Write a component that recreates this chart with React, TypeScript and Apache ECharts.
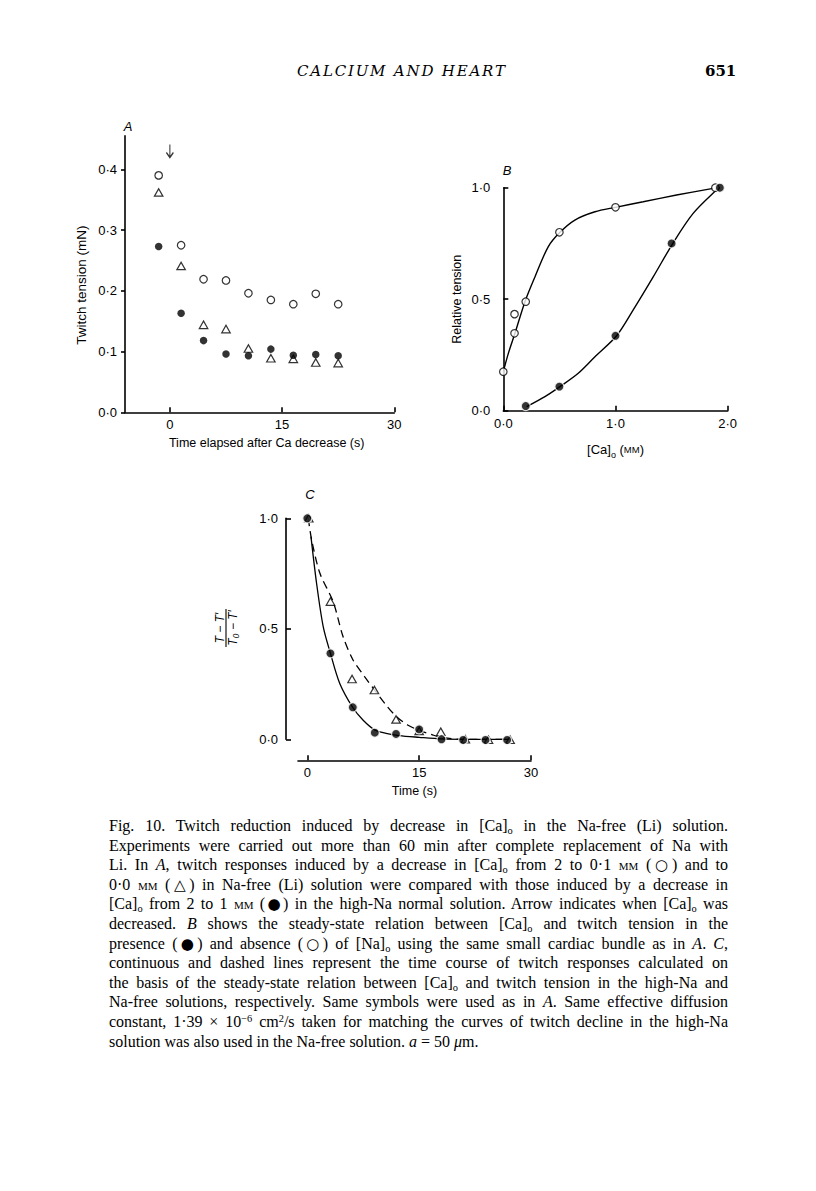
import React, { useEffect, useRef } from 'react';
import * as echarts from 'echarts';

// ---------- Panel A data ----------
const timeA = [-1.5, 1.5, 4.5, 7.5, 10.5, 13.5, 16.5, 19.5, 22.5];
const openA = [0.39, 0.275, 0.219, 0.217, 0.196, 0.185, 0.178, 0.195, 0.178];
const triA = [0.362, 0.241, 0.144, 0.137, 0.105, 0.089, 0.088, 0.082, 0.081];
const filledA = [0.273, 0.163, 0.118, 0.096, 0.093, 0.104, 0.094, 0.095, 0.093];
const arrowA = [[0, 0.43]];
const ticksAx = [0, 15, 30];
const ticksAy = [0, 0.1, 0.2, 0.3, 0.4];

// ---------- Panel B data ----------
const caOpen = [0.0, 0.1, 0.1, 0.2, 0.5, 1.0, 1.89];
const relOpen = [0.175, 0.347, 0.433, 0.489, 0.8, 0.912, 1.0];
const caFilled = [0.2, 0.5, 1.0, 1.5, 1.93];
const relFilled = [0.021, 0.108, 0.336, 0.75, 1.0];
const curveOpenCa = [0, 0.045, 0.104, 0.193, 0.282, 0.4, 0.505, 0.638, 0.817, 1.0, 1.247, 1.544, 1.87];
const curveOpenRel = [0.175, 0.257, 0.347, 0.489, 0.6, 0.735, 0.8, 0.855, 0.892, 0.912, 0.937, 0.967, 0.997];
const curveFilledCa = [0.208, 0.371, 0.505, 0.668, 0.817, 1.01, 1.158, 1.336, 1.514, 1.692, 1.9, 1.93];
const curveFilledRel = [0.018, 0.063, 0.108, 0.168, 0.242, 0.336, 0.452, 0.6, 0.753, 0.885, 0.99, 1.0];
const ticksBx = [0, 1, 2];
const ticksBy = [0, 0.5, 1];

// ---------- Panel C data ----------
const timeCFilled = [0, 3.1, 6.1, 9.05, 11.9, 15, 18, 20.9, 23.9, 26.8];
const relCFilled = [1.0, 0.389, 0.145, 0.03, 0.024, 0.045, 0.0, -0.003, -0.003, -0.003];
const timeCTri = [0.2, 3.1, 6.0, 9.0, 11.9, 15.0, 17.9, 21.2, 24.3, 27.2];
const relCTri = [1.0, 0.623, 0.273, 0.223, 0.09, 0.038, 0.034, 0.0, -0.002, -0.002];
const solidCt = [0.49, 1.24, 2.13, 3.1, 4.35, 6.08, 7.46, 9.05, 10.56, 12.3, 15, 18, 20.8, 27.4];
const solidCy = [0.917, 0.706, 0.51, 0.389, 0.253, 0.145, 0.087, 0.042, 0.027, 0.017, 0.009, 0.0015, 0, 0];
const dashCt = [0.13, 0.58, 1.69, 3.46, 4.79, 6.13, 7.68, 9.01, 10.56, 11.94, 13.45, 14.9, 16.8, 17.98, 20.8, 27.4];
const dashCy = [1.0, 0.902, 0.751, 0.623, 0.465, 0.359, 0.284, 0.223, 0.155, 0.103, 0.065, 0.042, 0.02, 0.009, 0, 0];
const ticksCx = [0, 15, 30];
const ticksCy = [0, 0.5, 1];

const zip = (a: number[], b: number[]) => a.map((v, i) => [v, b[i]]);
const fmt1 = (v: number) => v.toFixed(1).replace('.', '\u00B7');
const FONT = '"Liberation Sans", Arial, Helvetica, sans-serif';
const TICK_FS = 13;

const axisLineStyle = { show: true, onZero: false, lineStyle: { color: '#000', width: 1.6 } };

function makeOption(): any {
  const openSym = { color: '#fff', borderColor: '#000', borderWidth: 1.2 };
  const filledSym = { color: '#000', borderColor: '#fff', borderWidth: 1.2 };
  const lbl = (ticks: number[], margin: number, formatter?: any) => ({
    customValues: ticks, margin, fontSize: TICK_FS, color: '#000', fontFamily: FONT,
    ...(formatter ? { formatter } : {}),
  });
  const tick = (ticks: number[], inside: boolean, length: number) => ({
    show: true, inside, length, customValues: ticks, lineStyle: { color: '#000', width: 1.6 },
  });
  return {
    animation: false,
    backgroundColor: '#fff',
    textStyle: { fontFamily: FONT, color: '#000' },
    grid: [
      { left: 125, top: 135.9, width: 269.3, height: 276.4 },
      { left: 503.3, top: 187.7, width: 224.4, height: 223 },
      { left: 298, top: 518.3, width: 233, height: 221 },
    ],
    xAxis: [
      {
        type: 'value', gridIndex: 0, min: -6, max: 30,
        axisLine: axisLineStyle,
        axisTick: tick(ticksAx, true, 5),
        axisLabel: lbl(ticksAx, 6),
        splitLine: { show: false },
        name: 'Time elapsed after Ca decrease (s)', nameLocation: 'middle', nameGap: 24,
        nameTextStyle: { fontSize: 12.5, color: '#000', fontFamily: FONT, padding: [0, 0, 0, 14] },
      },
      {
        type: 'value', gridIndex: 1, min: 0, max: 2,
        axisLine: axisLineStyle,
        axisTick: tick(ticksBx, true, 5),
        axisLabel: lbl(ticksBx, 6, fmt1),
        splitLine: { show: false },
        name: '{a|[Ca]}{s|o}{a| (}{m|MM}{a|)}', nameLocation: 'middle', nameGap: 29,
        nameTextStyle: {
          color: '#000', fontFamily: FONT,
          rich: {
            a: { fontSize: 13, fontFamily: FONT, color: '#000' },
            s: { fontSize: 9, lineHeight: 20, verticalAlign: 'bottom', fontFamily: FONT, color: '#000' },
            m: { fontSize: 9.5, fontFamily: FONT, color: '#000' },
          },
        },
      },
      {
        type: 'value', gridIndex: 2, min: -1.25, max: 30, offset: 21,
        axisLine: axisLineStyle,
        axisTick: tick(ticksCx, true, 5),
        axisLabel: lbl(ticksCx, 6),
        splitLine: { show: false },
        name: 'Time (s)', nameLocation: 'middle', nameGap: 24,
        nameTextStyle: { fontSize: 12.5, color: '#000', fontFamily: FONT },
      },
    ],
    yAxis: [
      {
        type: 'value', gridIndex: 0, min: 0, max: 0.455,
        axisLine: axisLineStyle,
        axisTick: tick(ticksAy, false, 4),
        axisLabel: lbl(ticksAy, 8, fmt1),
        splitLine: { show: false },
        name: 'Twitch tension (mN)', nameLocation: 'middle', nameGap: 37, nameRotate: 90,
        nameTextStyle: { fontSize: 13.5, color: '#000', fontFamily: FONT, padding: [0, 22, 0, 0] },
      },
      {
        type: 'value', gridIndex: 1, min: 0, max: 1,
        axisLine: axisLineStyle,
        axisTick: tick(ticksBy, true, 5),
        axisLabel: lbl(ticksBy, 13, fmt1),
        splitLine: { show: false },
        name: 'Relative tension', nameLocation: 'middle', nameGap: 40, nameRotate: 90,
        nameTextStyle: { fontSize: 12.5, color: '#000', fontFamily: FONT },
      },
      {
        type: 'value', gridIndex: 2, min: 0, max: 1, offset: 12,
        axisLine: axisLineStyle,
        axisTick: tick(ticksCy, true, 5),
        axisLabel: lbl(ticksCy, 8, fmt1),
        splitLine: { show: false },
      },
    ],
    series: [
      // Panel A
      {
        type: 'scatter', xAxisIndex: 0, yAxisIndex: 0, data: zip(timeA, openA),
        symbol: 'circle', symbolSize: 7.5, itemStyle: openSym,
      },
      {
        type: 'scatter', xAxisIndex: 0, yAxisIndex: 0, data: zip(timeA, triA),
        symbol: 'triangle', symbolSize: [8.5, 7.5], itemStyle: openSym,
      },
      {
        type: 'scatter', xAxisIndex: 0, yAxisIndex: 0, data: zip(timeA, filledA),
        symbol: 'circle', symbolSize: 7.5, itemStyle: { color: '#000' },
      },
      {
        type: 'scatter', xAxisIndex: 0, yAxisIndex: 0, data: arrowA,
        symbol: 'path://M5 0 L5 14 M1 8.5 L5 14 L9 8.5', symbolSize: [7, 13], symbolKeepAspect: false,
        itemStyle: { color: 'none', borderColor: '#000', borderWidth: 1.4 }, silent: true, clip: false,
      },
      // Panel B curves
      {
        type: 'line', xAxisIndex: 1, yAxisIndex: 1, data: zip(curveOpenCa, curveOpenRel),
        smooth: 0.3, symbol: 'none', lineStyle: { color: '#000', width: 1.4 }, clip: false,
      },
      {
        type: 'line', xAxisIndex: 1, yAxisIndex: 1, data: zip(curveFilledCa, curveFilledRel),
        smooth: 0.3, symbol: 'none', lineStyle: { color: '#000', width: 1.4 }, clip: false,
      },
      {
        type: 'scatter', xAxisIndex: 1, yAxisIndex: 1, data: zip(caOpen, relOpen),
        symbol: 'circle', symbolSize: 7.5, itemStyle: openSym, clip: false, z: 5,
      },
      {
        type: 'scatter', xAxisIndex: 1, yAxisIndex: 1, data: zip(caFilled, relFilled),
        symbol: 'circle', symbolSize: 9, itemStyle: filledSym, clip: false, z: 5,
      },
      // Panel C
      {
        type: 'line', xAxisIndex: 2, yAxisIndex: 2, data: zip(solidCt, solidCy),
        smooth: 0.3, symbol: 'none', lineStyle: { color: '#000', width: 1.3 }, clip: false,
      },
      {
        type: 'line', xAxisIndex: 2, yAxisIndex: 2, data: zip(dashCt, dashCy),
        smooth: 0.3, symbol: 'none', lineStyle: { color: '#000', width: 1.3, type: [8, 5] }, clip: false,
      },
      {
        type: 'scatter', xAxisIndex: 2, yAxisIndex: 2, data: zip(timeCTri, relCTri),
        symbol: 'triangle', symbolSize: [8.5, 7.5], itemStyle: openSym, clip: false, z: 5,
      },
      {
        type: 'scatter', xAxisIndex: 2, yAxisIndex: 2, data: zip(timeCFilled, relCFilled),
        symbol: 'circle', symbolSize: 9, itemStyle: filledSym, clip: false, z: 6,
      },
    ],
    graphic: [
      {
        type: 'text', x: 128, y: 126, z: 10,
        style: { text: 'A', fontSize: 13, fontStyle: 'italic', fontFamily: FONT, fill: '#000', textAlign: 'center', textVerticalAlign: 'middle', align: 'center', verticalAlign: 'middle' },
      },
      {
        type: 'text', x: 507, y: 170, z: 10,
        style: { text: 'B', fontSize: 13, fontStyle: 'italic', fontFamily: FONT, fill: '#000', textAlign: 'center', textVerticalAlign: 'middle', align: 'center', verticalAlign: 'middle' },
      },
      {
        type: 'text', x: 310, y: 494, z: 10,
        style: { text: 'C', fontSize: 13, fontStyle: 'italic', fontFamily: FONT, fill: '#000', textAlign: 'center', textVerticalAlign: 'middle', align: 'center', verticalAlign: 'middle' },
      },
      {
        type: 'group', x: 226, y: 628, rotation: Math.PI / 2, z: 10,
        children: [
          {
            type: 'text', x: 0, y: -6.5,
            style: { text: 'T \u2212 T\u2032', fontSize: 12, fontStyle: 'italic', fontFamily: FONT, fill: '#000', textAlign: 'center', textVerticalAlign: 'middle', align: 'center', verticalAlign: 'middle' },
          },
          {
            type: 'line', shape: { x1: -19, y1: 0, x2: 19, y2: 0 },
            style: { stroke: '#000', lineWidth: 1.1 },
          },
          {
            type: 'text', x: 0, y: 7,
            style: { text: 'T\u2080 \u2212 T\u2032', fontSize: 12, fontStyle: 'italic', fontFamily: FONT, fill: '#000', textAlign: 'center', textVerticalAlign: 'middle', align: 'center', verticalAlign: 'middle' },
          },
        ],
      },
    ],
  };
}

const SERIF = '"Liberation Serif", "Times New Roman", serif';
const SC = { fontVariant: 'small-caps' as const };
const SYM = { fontFamily: '"DejaVu Sans", sans-serif', fontSize: '0.95em' };
const OpenC = () => <span style={SYM}>○</span>;
const FillC = () => <span style={SYM}>●</span>;
const Tri = () => <span style={SYM}>△</span>;

const captionLines: React.ReactNode[] = [
  <>Fig. 10. Twitch reduction induced by decrease in [Ca]<sub>o</sub> in the Na-free (Li) solution.</>,
  <>Experiments were carried out more than 60 min after complete replacement of Na with</>,
  <>Li. In <i>A</i>, twitch responses induced by a decrease in [Ca]<sub>o</sub> from 2 to 0·1 <span style={SC}>mm</span> (<OpenC />) and to</>,
  <>0·0 <span style={SC}>mm</span> (<Tri />) in Na-free (Li) solution were compared with those induced by a decrease in</>,
  <>[Ca]<sub>o</sub> from 2 to 1 <span style={SC}>mm</span> (<FillC />) in the high-Na normal solution. Arrow indicates when [Ca]<sub>o</sub> was</>,
  <>decreased. <i>B</i> shows the steady-state relation between [Ca]<sub>o</sub> and twitch tension in the</>,
  <>presence (<FillC />) and absence (<OpenC />) of [Na]<sub>o</sub> using the same small cardiac bundle as in <i>A</i>. <i>C</i>,</>,
  <>continuous and dashed lines represent the time course of twitch responses calculated on</>,
  <>the basis of the steady-state relation between [Ca]<sub>o</sub> and twitch tension in the high-Na and</>,
  <>Na-free solutions, respectively. Same symbols were used as in <i>A</i>. Same effective diffusion</>,
  <>constant, 1·39 × 10<sup>−6</sup> cm<sup>2</sup>/s taken for matching the curves of twitch decline in the high-Na</>,
  <>solution was also used in the Na-free solution. <i>a</i> = 50 <i>μ</i>m.</>,
];

export default function App() {
  const ref = useRef<HTMLDivElement>(null);
  useEffect(() => {
    if (!ref.current) return;
    const chart = echarts.init(ref.current, null, { renderer: 'svg' });
    chart.setOption(makeOption());
    return () => chart.dispose();
  }, []);
  const subStyle = `sub{font-size:0.65em;vertical-align:-0.25em;line-height:0}sup{font-size:0.65em;vertical-align:0.5em;line-height:0}`;
  return (
    <div style={{ position: 'absolute', left: 0, top: 0, width: 816, height: 1191, background: '#fff' }}>
      <style>{subStyle}</style>
      <div ref={ref} style={{ position: 'absolute', left: 0, top: 0, width: 816, height: 1191 }} />
      <div style={{ position: 'absolute', left: 297, top: 61, fontFamily: '"DejaVu Serif", serif', fontStyle: 'italic', fontSize: 15, letterSpacing: 1.8, lineHeight: '20px', color: '#000', whiteSpace: 'nowrap' }}>
        CALCIUM AND HEART
      </div>
      <div style={{ position: 'absolute', left: 705, top: 61, fontFamily: '"DejaVu Serif", serif', fontWeight: 'bold', fontSize: 15, lineHeight: '20px', color: '#000' }}>
        651
      </div>
      <div style={{ position: 'absolute', left: 109, top: 816, width: 619, fontFamily: SERIF, fontSize: 16, lineHeight: '19.6px', color: '#000' }}>
        {captionLines.map((ln, i) => (
          <div
            key={i}
            style={{
              whiteSpace: 'nowrap',
              textAlign: i === captionLines.length - 1 ? 'left' : 'justify',
              textAlignLast: i === captionLines.length - 1 ? 'left' : 'justify',
              height: '19.6px',
            }}
          >
            {ln}
          </div>
        ))}
      </div>
    </div>
  );
}
